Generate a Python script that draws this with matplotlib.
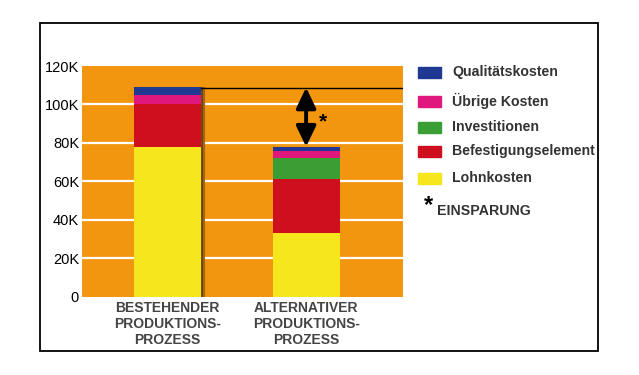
import matplotlib.pyplot as plt
import matplotlib.patches as mpatches
import numpy as np

# Daten (in Tausend)
kategorien = ["BESTEHENDER\nPRODUKTIONS-\nPROZESS", "ALTERNATIVER\nPRODUKTIONS-\nPROZESS"]
lohnkosten = [78, 33]
befestigung = [22, 28]
investitionen = [0, 11]
uebrige = [5, 4]
qualitaet = [4, 2]

serien = ["Lohnkosten", "Befestigungselement", "Investitionen", "Übrige Kosten", "Qualitätskosten"]
farben = ["#f6e61c", "#cd0f1e", "#3a9e35", "#e0187e", "#1f3891"]
legende_reihenfolge = ["Qualitätskosten", "Übrige Kosten", "Investitionen", "Befestigungselement", "Lohnkosten"]

plt.rcParams['font.family'] = ['Liberation Sans', 'DejaVu Sans']

fig = plt.figure(figsize=(6.39, 3.75), dpi=100)
fig.patch.set_facecolor("white")
# Rahmen um alles
fig.patches.append(mpatches.Rectangle((0.063, 0.064), 0.873, 0.874, transform=fig.transFigure,
                                      fill=False, edgecolor="black", linewidth=1.3))

ax = fig.add_axes([0.128, 0.209, 0.503, 0.615])
ax.set_facecolor("#f2960f")

x = np.arange(len(kategorien))
breite = 0.484
werte = [lohnkosten, befestigung, investitionen, uebrige, qualitaet]
unten = np.zeros(len(kategorien))
for w, f in zip(werte, farben):
    ax.bar(x, w, breite, bottom=unten, color=f, linewidth=0, zorder=3)
    unten = unten + np.array(w)

summen = unten
# Schatten am ersten Balken
ax.plot([x[0] + breite / 2 + 0.008] * 2, [0, summen[0] - 0.3], color="#6a4212", lw=2.0, zorder=2)
ax.plot([x[0] + breite / 2 + 0.02] * 2, [0, summen[0] - 0.5], color="#a8650f", lw=1.5, zorder=2)

# Gitter
for g in range(20, 120, 20):
    ax.axhline(g, color="white", lw=1.6, zorder=1)

# Linie und Pfeil fuer Einsparung
ax.plot([x[0] + breite / 2, 1.70], [summen[0] - 0.2, summen[0] - 0.2], color="black", lw=1, zorder=4)
ax.annotate("", xy=(x[1], summen[1]), xytext=(x[1], summen[0] - 0.2),
            arrowprops=dict(arrowstyle="<|-|>,head_length=1.25,head_width=0.6", color="black", lw=2.8,
                            shrinkA=0, shrinkB=0), zorder=5)
ax.text(x[1] + 0.12, 91, "*", fontsize=15, fontweight="bold", ha="center", va="center", zorder=5)

ax.set_xlim(-0.617, 1.70)
ax.set_ylim(0, 120)
ax.set_yticks(range(0, 121, 20))
ax.set_yticklabels(["0", "20K", "40K", "60K", "80K", "100K", "120K"], fontsize=10.5)
ax.set_xticks(x)
ax.set_xticklabels(kategorien, fontsize=10, fontweight="bold", color="#444444", linespacing=1.2)
ax.tick_params(axis="y", length=0, pad=2)
ax.tick_params(axis="x", length=0, pad=3)
for s in ax.spines.values():
    s.set_visible(False)

# Legende
farbe_von = dict(zip(serien, farben))
ly = [72, 101, 127, 151, 178]
for name, y in zip(legende_reihenfolge, ly):
    fy = 1 - y / 375
    fig.patches.append(mpatches.Rectangle((418 / 639, fy - 5.5 / 375), 23 / 639, 11 / 375,
                                          transform=fig.transFigure, color=farbe_von[name]))
    fig.text(452 / 639, fy, name, fontsize=10.2, fontweight="bold", color="#333333", va="center")
fig.text(428 / 639, 1 - 206 / 375, "*", fontsize=17, fontweight="bold", color="black", va="center", ha="center")
fig.text(437 / 639, 1 - 211 / 375, "EINSPARUNG", fontsize=10.2, fontweight="bold", color="#333333", va="center")

fig.savefig("out.png", dpi=100)
